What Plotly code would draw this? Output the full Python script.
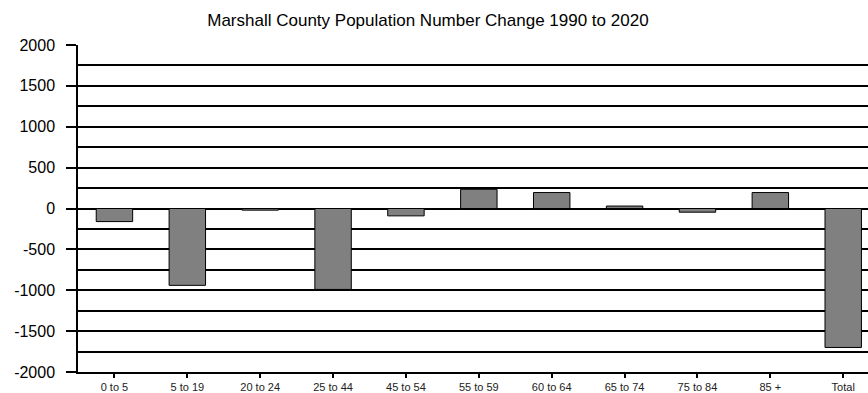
import plotly.graph_objects as go

# Age groups and population change, 1990 to 2020
age_groups = ["0 to 5", "5 to 19", "20 to 24", "25 to 44", "45 to 54", "55 to 59",
              "60 to 64", "65 to 74", "75 to 84", "85 +", "Total"]
change = [-160, -940, -20, -990, -90, 235, 195, 30, -45, 195, -1700]

y_tick_vals = [-2000, -1500, -1000, -500, 0, 500, 1000, 1500, 2000]
y_tick_text = [str(v) for v in y_tick_vals]

fig = go.Figure(
    go.Bar(
        x=age_groups,
        y=change,
        width=0.5,
        marker=dict(color="#808080", line=dict(color="#000000", width=1)),
    )
)

fig.update_layout(
    width=868,
    height=393,
    margin=dict(l=78, r=0, t=45, b=21),
    paper_bgcolor="white",
    plot_bgcolor="white",
    showlegend=False,
    font=dict(family="Liberation Sans, Arial, sans-serif", color="#000000"),
    title=dict(
        text="Marshall County Population Number Change 1990 to 2020",
        x=0.493,
        xanchor="center",
        xref="container",
        y=1 - 20 / 393,
        yanchor="middle",
        yref="container",
        font=dict(size=17, color="#000000"),
    ),
)

fig.update_yaxes(
    range=[-2000, 2000],
    tickvals=y_tick_vals,
    ticktext=[t + "\u2002" for t in y_tick_text],
    ticks="outside",
    ticklen=10,
    tickwidth=1.5,
    tickcolor="#000000",
    tickfont=dict(size=16, color="#000000"),
    showgrid=True,
    gridcolor="#000000",
    gridwidth=1.5,
    minor=dict(dtick=250, tick0=0, showgrid=True, gridcolor="#000000", gridwidth=1.5, ticks=""),
    zeroline=False,
    showline=True,
    linecolor="#000000",
    linewidth=1.5,
    automargin=False,
    fixedrange=True,
)

fig.update_xaxes(
    range=[-0.5, 10.34],
    ticks="outside",
    ticklen=4,
    tickwidth=1.5,
    tickcolor="#000000",
    tickfont=dict(size=11, color="#222222"),
    showgrid=False,
    showline=True,
    linecolor="#000000",
    linewidth=1.5,
    automargin=False,
    fixedrange=True,
)

fig.write_html("out.html", config={"displayModeBar": False})
